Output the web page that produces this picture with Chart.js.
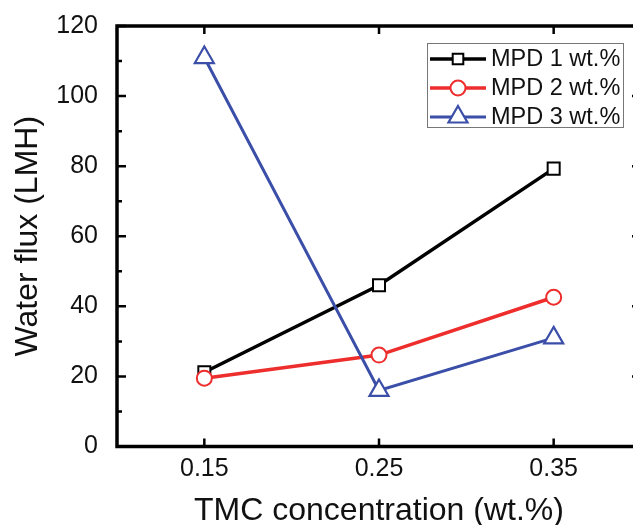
<!DOCTYPE html>
<html>
<head>
<meta charset="utf-8">
<script src="https://cdn.jsdelivr.net/npm/chart.js@4/dist/chart.umd.min.js"></script>
<style>
  html, body { margin: 0; padding: 0; background: #fff; overflow: hidden; }
  #wrap { width: 660px; height: 525px; }
</style>
</head>
<body>
<div id="wrap"><canvas id="chart" width="660" height="525"></canvas></div>
<script>
const tmc = [0.15, 0.25, 0.35];
const mpd1 = [21.2, 46.0, 79.3];
const mpd2 = [19.5, 26.1, 42.6];
const mpd3 = [111, 16, 31];
const seriesNames = ["MPD 1 wt.%", "MPD 2 wt.%", "MPD 3 wt.%"];
const xTicks = [0.15, 0.25, 0.35];
const yMajorTicks = [0, 20, 40, 60, 80, 100, 120];
const yMinorTicks = [10, 30, 50, 70, 90, 110];

const FONT = "'Liberation Sans', Arial, sans-serif";
const toPoints = (ys) => tmc.map((x, i) => ({ x, y: ys[i] }));

// frame, inward ticks and the boxed legend
const framePlugin = {
  id: "frame",
  afterDatasetsDraw(chart) {
    const { ctx, chartArea: a, scales: { x, y } } = chart;
    ctx.save();
    ctx.strokeStyle = "#000";
    ctx.lineWidth = 2.5;
    ctx.beginPath();
    xTicks.forEach(v => {
      const px = x.getPixelForValue(v);
      ctx.moveTo(px, a.bottom); ctx.lineTo(px, a.bottom - 8);
      ctx.moveTo(px, a.top); ctx.lineTo(px, a.top + 8);
    });
    yMajorTicks.forEach(v => {
      const py = y.getPixelForValue(v);
      ctx.moveTo(a.left, py); ctx.lineTo(a.left + 9, py);
      ctx.moveTo(a.right, py); ctx.lineTo(a.right - 9, py);
    });
    yMinorTicks.forEach(v => {
      const py = y.getPixelForValue(v);
      ctx.moveTo(a.left, py); ctx.lineTo(a.left + 5, py);
      ctx.moveTo(a.right, py); ctx.lineTo(a.right - 5, py);
    });
    ctx.stroke();
    ctx.lineWidth = 3.5;
    ctx.strokeRect(a.left, a.top, a.right - a.left, a.bottom - a.top);

    // legend
    const box = { x: 427, y: 43, w: 196, h: 84 };
    ctx.lineWidth = 1;
    ctx.strokeStyle = "#777";
    ctx.strokeRect(box.x + 0.5, box.y + 0.5, box.w, box.h);
    ctx.font = "23.5px " + FONT;
    ctx.textBaseline = "middle";
    ctx.textAlign = "left";
    chart.data.datasets.forEach((ds, i) => {
      const ly = 59 + i * 29;
      ctx.strokeStyle = ds.borderColor;
      ctx.lineWidth = ds.borderWidth;
      ctx.beginPath();
      ctx.moveTo(430, ly); ctx.lineTo(486, ly);
      ctx.stroke();
      ctx.fillStyle = "#fff";
      ctx.strokeStyle = ds.pointBorderColor;
      ctx.lineWidth = ds.pointBorderWidth;
      Chart.helpers.drawPoint(ctx, { pointStyle: ds.pointStyle, radius: ds.legendRadius, rotation: 0, borderWidth: ds.pointBorderWidth }, 458, ly);
      ctx.fillStyle = "#111";
      ctx.fillText(ds.label, 491, ly + 1);
    });
    ctx.restore();
  }
};

new Chart(document.getElementById("chart"), {
  type: "line",
  data: {
    datasets: [
      { label: seriesNames[0], data: toPoints(mpd1), borderColor: "#000", borderWidth: 3.5,
        pointStyle: "rect", pointRadius: 8.5, legendRadius: 7.5, pointBorderColor: "#000",
        pointBackgroundColor: "#fff", pointBorderWidth: 2, order: 2 },
      { label: seriesNames[1], data: toPoints(mpd2), borderColor: "#ee2d2d", borderWidth: 3.5,
        pointStyle: "circle", pointRadius: 7.5, legendRadius: 7.5, pointBorderColor: "#ee2d2d",
        pointBackgroundColor: "#fff", pointBorderWidth: 2, order: 1 },
      { label: seriesNames[2], data: toPoints(mpd3), borderColor: "#3b4ea8", borderWidth: 3,
        pointStyle: "triangle", pointRadius: 11, legendRadius: 11, pointBorderColor: "#3b4ea8",
        pointBackgroundColor: "#fff", pointBorderWidth: 2.2, order: 0 },
    ]
  },
  options: {
    responsive: false,
    animation: false,
    layout: { padding: { top: 24.5, right: 19, left: 0, bottom: 0 } },
    plugins: { legend: { display: false }, tooltip: { enabled: false } },
    elements: { line: { tension: 0 } },
    scales: {
      x: {
        type: "linear", min: 0.1, max: 0.4,
        afterBuildTicks: s => { s.ticks = xTicks.map(v => ({ value: v })); },
        afterFit: s => { s.height = 78.5; },
        grid: { display: false }, border: { display: false },
        ticks: { color: "#111", font: { family: FONT, size: 25 }, padding: 0,
                 callback: v => v.toFixed(2) },
        title: { display: true, text: "TMC concentration (wt.%)", color: "#111",
                 font: { family: FONT, size: 32, lineHeight: 1 }, padding: { top: 0, bottom: -2 } }
      },
      y: {
        min: 0, max: 120,
        afterBuildTicks: s => { s.ticks = yMajorTicks.map(v => ({ value: v })); },
        afterFit: s => { s.width = 117; },
        grid: { display: false }, border: { display: false },
        ticks: { color: "#111", font: { family: FONT, size: 25 }, padding: 11 },
        title: { display: true, text: "Water flux (LMH)", color: "#111",
                 font: { family: FONT, size: 32, lineHeight: 1 }, padding: { top: 12, bottom: 0 } }
      }
    }
  },
  plugins: [framePlugin]
});
</script>
</body>
</html>
